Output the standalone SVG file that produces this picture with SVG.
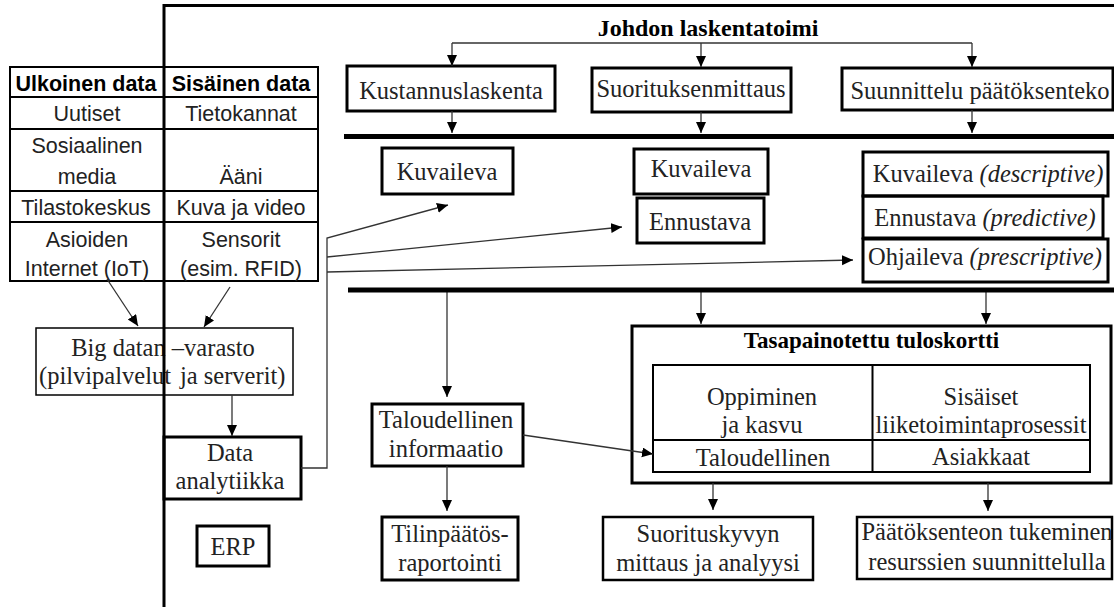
<svg xmlns="http://www.w3.org/2000/svg" width="1114" height="607" viewBox="0 0 1114 607">
<defs>
<marker id="ah" markerUnits="userSpaceOnUse" markerWidth="12" markerHeight="11" refX="11" refY="5" orient="auto"><path d="M0,0 L11,5 L0,10 z" fill="#000"/></marker>
<style>
.sans{font-family:"Liberation Sans",Arial,sans-serif;font-size:21.5px;fill:#222;text-anchor:middle}
.sb{font-weight:bold;fill:#000}
.ser{font-family:"Liberation Serif","Times New Roman",serif;font-size:24.5px;fill:#222;text-anchor:middle}
.bold{font-weight:bold;fill:#000}
.it{font-style:italic}
.bx{fill:none;stroke:#000;stroke-width:3}
.bx2{fill:none;stroke:#000;stroke-width:2.5}
.tb{fill:none;stroke:#000;stroke-width:2}
.thin{fill:none;stroke:#000;stroke-width:1.5}
.c{fill:none;stroke:#333;stroke-width:1.3}
.a{marker-end:url(#ah)}
.sep{stroke:#000;stroke-width:5}
.frame{stroke:#000;stroke-width:3;fill:none}
</style>
</defs>
<rect width="1114" height="607" fill="#fff"/>

<g id="data-table">
<rect class="tb" x="10" y="67" width="308" height="214"/>
<path class="tb" d="M10,97 H318 M10,129 H318 M10,191 H318 M10,222 H318"/>
<text class="sans sb" x="86" y="91">Ulkoinen data</text>
<text class="sans sb" x="241" y="91">Sisäinen data</text>
<text class="sans" x="87" y="121">Uutiset</text>
<text class="sans" x="241" y="121">Tietokannat</text>
<text class="sans" x="87" y="153">Sosiaalinen</text>
<text class="sans" x="87" y="184">media</text>
<text class="sans" x="241" y="184">Ääni</text>
<text class="sans" x="86" y="215">Tilastokeskus</text>
<text class="sans" x="241" y="215">Kuva ja video</text>
<text class="sans" x="87" y="247">Asioiden</text>
<text class="sans" x="87" y="276">Internet (IoT)</text>
<text class="sans" x="241" y="247">Sensorit</text>
<text class="sans" x="241" y="276">(esim. RFID)</text>
</g>

<g id="big-data">
<rect class="thin" x="36" y="328" width="257" height="67"/>
<text class="ser" x="163" y="356">Big datan –varasto</text>
<text class="ser" style="text-anchor:start" y="384"><tspan x="39">(pilvipalvelut</tspan><tspan x="180">ja serverit)</tspan></text>
</g>

<g id="data-analytiikka">
<rect class="bx" x="164" y="437" width="137" height="62"/>
<text class="ser" x="230" y="461">Data</text>
<text class="ser" x="230" y="489">analytiikka</text>
</g>

<g id="erp">
<rect class="bx" x="197" y="526" width="72" height="40"/>
<text class="ser" x="233" y="555">ERP</text>
</g>

<g id="johdon-laskentatoimi">
<text class="ser bold" style="font-size:24px" x="708" y="36">Johdon laskentatoimi</text>
</g>

<g id="kustannuslaskenta">
<rect class="bx" x="347" y="66" width="208" height="45"/>
<text class="ser" x="451" y="99">Kustannuslaskenta</text>
</g>

<g id="suorituksenmittaus">
<rect class="bx" x="592" y="68" width="199" height="44"/>
<text class="ser" x="691" y="97">Suorituksenmittaus</text>
</g>

<g id="suunnittelu">
<rect class="bx" x="842" y="68" width="271" height="42"/>
<text class="ser" x="980" y="99">Suunnittelu päätöksenteko</text>
</g>

<g id="kuvaileva-1">
<rect class="bx" x="382" y="148" width="131" height="46"/>
<text class="ser" x="447" y="180">Kuvaileva</text>
</g>

<g id="kuvaileva-2">
<rect class="bx" x="634" y="149" width="134" height="45"/>
<text class="ser" x="701" y="177">Kuvaileva</text>
</g>

<g id="ennustava-2">
<rect class="bx" x="637" y="198" width="127" height="45"/>
<text class="ser" x="700" y="230">Ennustava</text>
</g>

<g id="kuvaileva-3">
<rect class="bx" x="863" y="152" width="245" height="44"/>
<text class="ser" x="988" y="182">Kuvaileva <tspan class="it">(descriptive)</tspan></text>
</g>

<g id="ennustava-3">
<rect class="bx" x="863" y="196" width="240" height="42"/>
<text class="ser" x="985" y="226">Ennustava <tspan class="it">(predictive)</tspan></text>
</g>

<g id="ohjaileva">
<rect class="bx" x="863" y="239" width="245" height="43"/>
<text class="ser" x="985" y="265">Ohjaileva <tspan class="it">(prescriptive)</tspan></text>
</g>

<g id="taloudellinen-informaatio">
<rect class="bx" x="372" y="404" width="151" height="62"/>
<text class="ser" x="446" y="428">Taloudellinen</text>
<text class="ser" x="446" y="457">informaatio</text>
</g>

<g id="tasapainotettu-tuloskortti">
<rect class="bx" x="632" y="326" width="479" height="157"/>
<text class="ser bold" style="font-size:23px" x="871.5" y="348">Tasapainotettu tuloskortti</text>
<rect class="tb" x="653" y="365" width="437" height="107"/>
<path class="tb" d="M653,440 H1090 M872.5,365 V472"/>
<text class="ser" x="762" y="405">Oppiminen</text>
<text class="ser" x="762" y="433">ja kasvu</text>
<text class="ser" x="763" y="466">Taloudellinen</text>
<text class="ser" x="981" y="405">Sisäiset</text>
<text class="ser" x="981" y="433">liiketoimintaprosessit</text>
<text class="ser" x="981" y="465">Asiakkaat</text>
</g>

<g id="tilinpaatosraportointi">
<rect class="bx" x="382" y="517" width="136" height="63"/>
<text class="ser" x="450" y="542">Tilinpäätös-</text>
<text class="ser" x="450" y="571">raportointi</text>
</g>

<g id="suorituskyvyn-mittaus">
<rect class="bx2" x="603" y="517" width="210" height="63"/>
<text class="ser" x="708" y="542">Suorituskyvyn</text>
<text class="ser" x="708" y="571">mittaus ja analyysi</text>
</g>

<g id="paatoksenteon-tukeminen">
<rect class="bx2" x="857" y="517" width="255" height="62"/>
<text class="ser" x="987" y="540">Päätöksenteon tukeminen</text>
<text class="ser" x="987" y="570">resurssien suunnittelulla</text>
</g>

<g id="connectors">
<path class="c" d="M452,43 H972"/>
<path class="c a" d="M452,43 V66"/>
<path class="c a" d="M701,43 V67"/>
<path class="c a" d="M972,43 V67"/>
<path class="c a" d="M452,111 V133"/>
<path class="c a" d="M701,112 V133"/>
<path class="c a" d="M972,110 V133"/>
<path class="c a" d="M447,292 V397"/>
<path class="c a" d="M701,292 V324"/>
<path class="c a" d="M986,292 V324"/>
<path class="c a" d="M107,279 L138,326"/>
<path class="c a" d="M230,287 L204,327"/>
<path class="c a" d="M232,395 V436"/>
<path class="c a" d="M301,468 H327 V238 L448,205"/>
<path class="c a" d="M327,257 L622,227"/>
<path class="c a" d="M327,272 L853,260"/>
<path class="c a" d="M523,435 L653,454"/>
<path class="c a" d="M447,466 V511"/>
<path class="c a" d="M713,483 V510"/>
<path class="c a" d="M988,483 V511"/>
</g>

<g id="frame">
<path class="sep" d="M344,136.5 H1114"/>
<path class="sep" d="M348,290 H1114"/>
<path class="frame" d="M164,607 V5.5 H1114"/>
</g>
</svg>
